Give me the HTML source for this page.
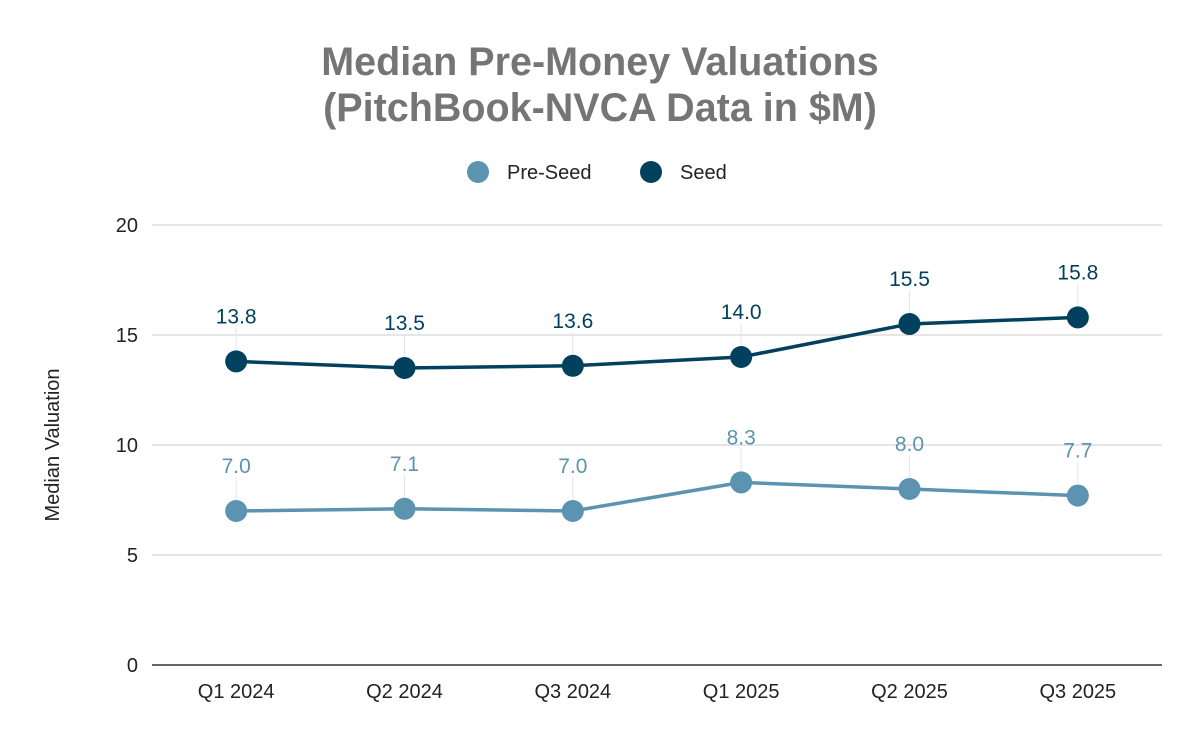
<!DOCTYPE html>
<html><head><meta charset="utf-8"><style>
body{margin:0;background:#fff;font-family:"Liberation Sans",Arial,sans-serif}
svg{display:block}
</style></head><body>
<svg id="chart" width="1200" height="742">
<text x="600" y="75" text-anchor="middle" font-size="39.5" font-weight="bold" fill="#757575">Median Pre-Money Valuations</text>
<text x="600" y="121" text-anchor="middle" font-size="39.5" font-weight="bold" fill="#757575">(PitchBook-NVCA Data in $M)</text>
<g><circle cx="478" cy="172" r="11" fill="#5b93b0"/><text x="507" y="179" font-size="20" fill="#222">Pre-Seed</text></g>
<g><circle cx="651" cy="172" r="11" fill="#02415e"/><text x="680" y="179" font-size="20" fill="#222">Seed</text></g>
<text transform="translate(59,445) rotate(-90)" text-anchor="middle" font-size="20" fill="#222">Median Valuation</text>
<g id="grid"></g><g id="marks"></g>
</svg>
<script>
const categories=["Q1 2024","Q2 2024","Q3 2024","Q1 2025","Q2 2025","Q3 2025"];
const preSeed=[7.0,7.1,7.0,8.3,8.0,7.7];
const seed=[13.8,13.5,13.6,14.0,15.5,15.8];
const yTicks=[0,5,10,15,20];
const NS="http://www.w3.org/2000/svg";
const X0=152,X1=1162,Y0=665,Y1=225,YMAX=20;
const x=i=>X0+(X1-X0)/categories.length*(i+0.5);
const y=v=>Y0-(Y0-Y1)*v/YMAX;
function mk(tag,attrs,parent,txt){const e=document.createElementNS(NS,tag);for(const k in attrs)e.setAttribute(k,attrs[k]);if(txt!==undefined)e.textContent=txt;parent.appendChild(e);return e;}
const grid=document.getElementById('grid'),marks=document.getElementById('marks');
yTicks.forEach(t=>{
 const l=mk('line',{x1:X0,x2:X1,y1:y(t),y2:y(t),stroke:t===0?'#333':'#ccc','stroke-width':t===0?1.5:1},grid);
 
 
 const tx=mk('text',{x:138,y:y(t)+7,'text-anchor':'end','font-size':20,fill:'#222'},grid,String(t));
 
 
});
categories.forEach((c,i)=>{
 const tx=mk('text',{x:x(i),y:698,'text-anchor':'middle','font-size':20,fill:'#222'},grid,c);
 
 
});
function series(vals,color,name){
 const pl=mk('polyline',{points:vals.map((v,i)=>x(i)+','+y(v)).join(' '),fill:'none',stroke:color,'stroke-width':3.5},marks);
 
 
 vals.forEach((v,i)=>{
  const ld=mk('line',{x1:x(i),x2:x(i),y1:y(v)-34,y2:y(v),stroke:'#e6e6e6','stroke-width':1},marks);
  
  
  const c=mk('circle',{cx:x(i),cy:y(v),r:11,fill:color},marks);
  
  
  const t=mk('text',{x:x(i),y:y(v)-38,'text-anchor':'middle','font-size':21,fill:color},marks,v.toFixed(1));
  
  
 });
}
series(preSeed,'#5b93b0','pre-seed');
series(seed,'#02415e','seed');
</script>
</body></html>
